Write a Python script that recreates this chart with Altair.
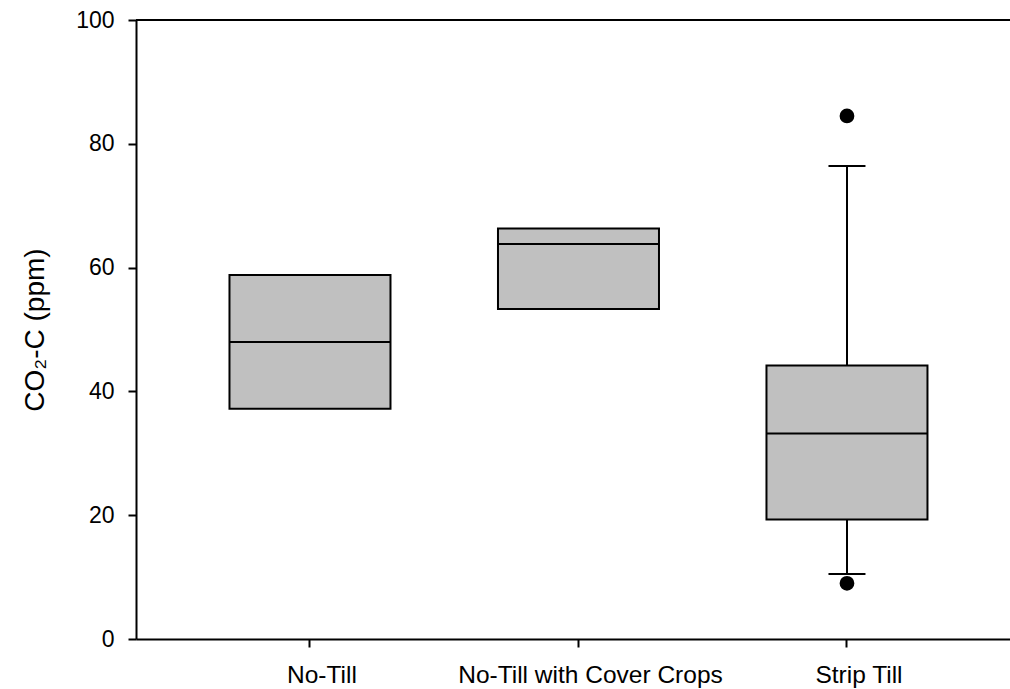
import altair as alt
import pandas as pd

categories = ["No-Till", "No-Till with Cover Crops", "Strip Till"]
q1 = [37.2, 53.3, 19.3]
median = [48.0, 63.8, 33.2]
q3 = [58.8, 66.3, 44.2]

whisker_cat = ["Strip Till"]
whisker_low = [10.5]
whisker_high = [76.4]

outlier_cat = ["Strip Till", "Strip Till"]
outlier_val = [84.5, 9.0]

y_ticks = [0, 20, 40, 60, 80, 100]

FONT = "Liberation Sans"

boxes = pd.DataFrame({"cat": categories, "q1": q1, "median": median, "q3": q3})
whisk = pd.DataFrame({"cat": whisker_cat, "lo": whisker_low, "hi": whisker_high,
                      "q1": [q1[categories.index(c)] for c in whisker_cat],
                      "q3": [q3[categories.index(c)] for c in whisker_cat]})
outl = pd.DataFrame({"cat": outlier_cat, "val": outlier_val})

xscale = alt.Scale(domain=categories, paddingInner=0, paddingOuter=0.1276, align=0.58)
yscale = alt.Scale(domain=[0, 100], nice=False, zero=False)

xenc = alt.X("cat:N", scale=xscale, sort=categories,
             axis=alt.Axis(title=None, labelAngle=0, labelFont=FONT, labelFontSize=24.5,
                           labelColor="black", labelPadding=16, labelOffset=12, tickSize=8,
                           tickWidth=2, tickColor="black", domainColor="black",
                           domainWidth=2, grid=False, labelLimit=400))
yaxis = alt.Axis(title="CO₂-C (ppm)", values=y_ticks, labelFont=FONT, labelFontSize=23,
                 labelColor="black", labelPadding=14, tickSize=8, tickWidth=2,
                 tickColor="black", domainColor="black", domainWidth=2, grid=False,
                 titleFont=FONT, titleFontSize=28, titleFontWeight="normal",
                 titleColor="black", titlePadding=26)

base = alt.Chart(boxes)

bars = base.mark_bar(color="#C0C0C0", stroke="black", strokeWidth=2, size=161).encode(
    x=xenc,
    y=alt.Y("q1:Q", scale=yscale, axis=yaxis),
    y2="q3:Q",
)
med = base.mark_tick(color="black", thickness=2, size=161, opacity=1).encode(
    x="cat:N", y="median:Q")

wc = alt.Chart(whisk)
w_up = wc.mark_rule(color="black", strokeWidth=2).encode(x="cat:N", y="q3:Q", y2="hi:Q")
w_lo = wc.mark_rule(color="black", strokeWidth=2).encode(x="cat:N", y="lo:Q", y2="q1:Q")
cap_up = wc.mark_tick(color="black", thickness=2, size=37, opacity=1).encode(x="cat:N", y="hi:Q")
cap_lo = wc.mark_tick(color="black", thickness=2, size=37, opacity=1).encode(x="cat:N", y="lo:Q")

pts = alt.Chart(outl).mark_circle(color="black", size=218, opacity=1).encode(
    x="cat:N", y="val:Q")

top = alt.Chart(pd.DataFrame({"v": [100]})).mark_rule(color="black", strokeWidth=2).encode(
    y="v:Q")

chart = alt.layer(bars, w_up, w_lo, cap_up, cap_lo, med, pts, top).properties(
    width=874, height=619,
    autosize=alt.AutoSizeParams(type="none"),
    padding={"left": 136, "top": 20, "right": 0, "bottom": 50},
    background="white",
).configure_view(strokeWidth=0)

chart.save("out.html", embed_options={"renderer": "svg", "actions": False})
